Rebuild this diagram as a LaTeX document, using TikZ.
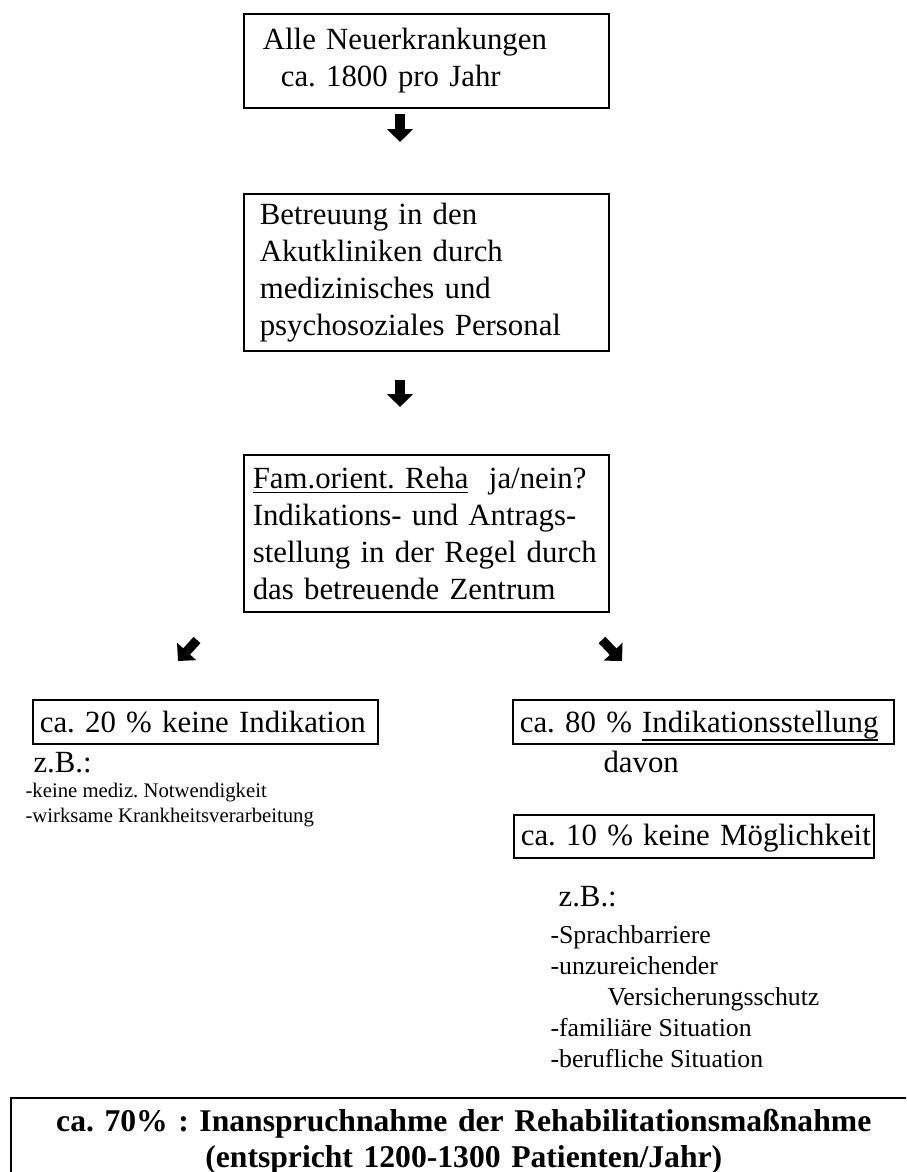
\documentclass[tikz,border=0pt]{standalone}
\usepackage{fontspec}
\setmainfont{Liberation Serif}
\usetikzlibrary{arrows.meta}
\frenchspacing
\newcommand{\undl}[1]{\leavevmode\setbox0\hbox{#1}\rlap{\rule[-2.8pt]{\wd0}{0.5pt}}\box0}
\begin{document}
\begin{tikzpicture}
      [
      x=0.357pt, y=-0.357pt,
      font=\fontsize{11}{13.2}\selectfont\frenchspacing,
      box/.style={draw,line width=0.6pt,rectangle,anchor=north west,align=left,inner ysep=0pt},
      onebox/.style={box,inner xsep=2.5pt,inner ysep=0pt},
      note/.style={anchor=base west,inner sep=0pt},
      small/.style={note,font=\fontsize{7.4}{9}\selectfont},
      listitem/.style={note,font=\fontsize{9.2}{11}\selectfont},
      bigarrow/.style={line width=3.3pt,-{Triangle[width=9pt,length=4.6pt]}}
      ]
      \useasboundingbox (0,0) rectangle (906,1172);
      \clip (0,0) rectangle (906,1172);
      \node (start) at (243,13) [box,inner xsep=6.8pt,text width=116.7pt,minimum height=33.6pt]
        {Alle Neuerkrankungen\\\hspace*{6.4pt}ca. 1800 pro Jahr};
      \node (care) at (243,193) [box,inner xsep=5.7pt,text width=118.9pt,minimum height=56pt]
        {Betreuung in den\\Akutkliniken durch\\medizinisches und\\psychosoziales Personal};
      \node (decision) at (243,454) [box,inner xsep=3.2pt,text width=123.9pt,minimum height=56pt]
        {\underline{Fam.orient. Reha}\ \ ja/nein?\\Indikations- und Antrags-\\stellung in der Regel durch\\das betreuende Zentrum};
      \node (noind) at (32,699) [onebox,text width=118.2pt,text height=11.8pt,text depth=3.9pt]
        {\mbox{ca. 20 \% keine Indikation}};
      \node (ind) at (512,699) [onebox,text width=131pt,text height=11.8pt,text depth=3.9pt]
        {\mbox{ca. 80 \% \undl{Indikationsstellung}}};
      \node (nochance) at (513,814) [onebox,text width=123.5pt,text height=11.1pt,text depth=4.3pt]
        {\mbox{ca. 10 \% keine Möglichkeit}};
      \node (uptake) at (10,1097) [box,align=center,font=\fontsize{11.3}{13}\selectfont\bfseries,
        inner xsep=6pt,text width=311.4pt,minimum height=31.4pt]
        {ca. 70\% : Inanspruchnahme der Rehabilitationsmaßnahme\\(entspricht 1200-1300 Patienten/Jahr)};
      % notes below the boxes
      \node (zbleft) at (33,772) [note] {z.B.:};
      \node (l1) at (25,797) [small] {-keine mediz. Notwendigkeit};
      \node (l2) at (25,822) [small] {-wirksame Krankheitsverarbeitung};
      \node (davon) at (603,772) [note] {davon};
      \node (zbright) at (558,906) [note] {z.B.:};
      \node (r1) at (550,943) [listitem] {-Sprachbarriere};
      \node (r2) at (550,974) [listitem] {-unzureichender};
      \node (r3) at (607,1005) [listitem] {Versicherungsschutz};
      \node (r4) at (550,1036) [listitem] {-familiäre Situation};
      \node (r5) at (550,1067) [listitem] {-berufliche Situation};
      % arrows
      \coordinate (a1) at (400,114);
      \coordinate (a2) at (400,142);
      \coordinate (b1) at (400,380);
      \coordinate (b2) at (400,407);
      \coordinate (c1) at (197,640);
      \coordinate (c2) at (178,661);
      \coordinate (d1) at (602,640);
      \coordinate (d2) at (622,661);
      \draw [bigarrow] (a1) to (a2);
      \draw [bigarrow] (b1) to (b2);
      \draw [bigarrow] (c1) to (c2);
      \draw [bigarrow] (d1) to (d2);
    \end{tikzpicture}
\end{document}
